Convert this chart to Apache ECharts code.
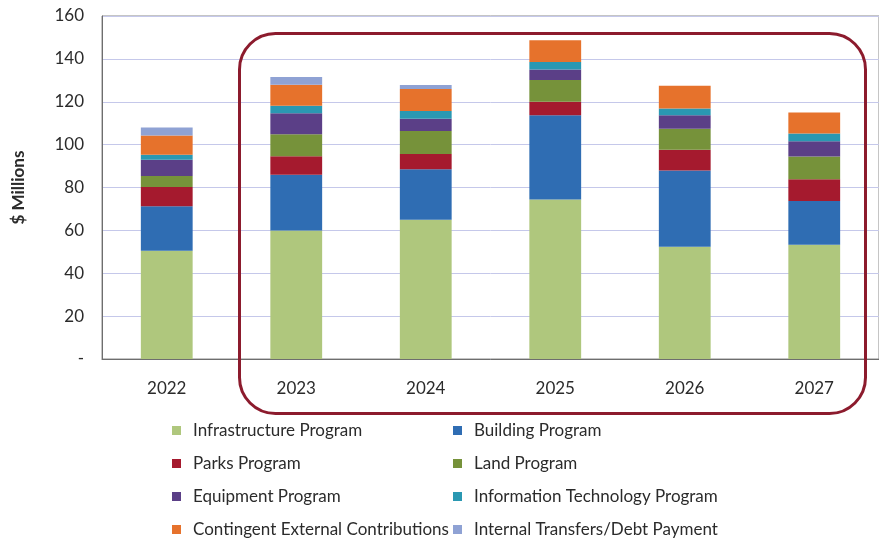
<!DOCTYPE html>
<html>
<head>
<meta charset="utf-8">
<style>
  html, body { margin: 0; padding: 0; background: #fff; }
  #chart { width: 879px; height: 540px; }
</style>
<script src="https://cdn.jsdelivr.net/npm/echarts@6/dist/echarts.min.js"></script>
</head>
<body>
<div id="chart"></div>
<script>
  // fiscal years
  const years = ['2022', '2023', '2024', '2025', '2026', '2027']

  // $ millions
  const infrastructure = [50.5, 60.0, 65.0, 74.4, 52.4, 53.3]
  const building = [20.7, 25.9, 23.5, 39.3, 35.5, 20.4]
  const parks = [9.0, 8.7, 7.1, 6.3, 9.7, 10.1]
  const land = [5.2, 10.2, 10.7, 10.2, 9.8, 10.7]
  const equipment = [7.5, 9.8, 5.8, 4.8, 6.3, 7.1]
  const infoTech = [2.4, 3.5, 3.6, 3.5, 3.1, 3.6]
  const contingent = [8.9, 9.8, 10.3, 10.2, 10.7, 9.8]
  const internalTransfers = [3.8, 3.6, 1.8, 0, 0, 0]

  const yTicks = [0, 20, 40, 60, 80, 100, 120, 140, 160]

  const seriesDefs = [
    { name: 'Infrastructure Program', data: infrastructure, color: '#afc77d' },
    { name: 'Building Program', data: building, color: '#2f6db3' },
    { name: 'Parks Program', data: parks, color: '#a51a2e' },
    { name: 'Land Program', data: land, color: '#76923a' },
    { name: 'Equipment Program', data: equipment, color: '#5b3f87' },
    { name: 'Information Technology Program', data: infoTech, color: '#2a98b2' },
    { name: 'Contingent External Contributions', data: contingent, color: '#e6722c' },
    { name: 'Internal Transfers/Debt Payment', data: internalTransfers, color: '#8fa2d4' }
  ]

  const chart = echarts.init(document.getElementById('chart'))
  const legendText = {
    fontFamily: 'Lato',
    fontSize: 17,
    color: '#2b2b2b',
    padding: [0, 0, 0, 7]
  }
  const legendBase = {
    orient: 'vertical',
    top: 422,
    height: 140,
    padding: 0,
    itemWidth: 9,
    itemHeight: 9,
    itemGap: 16,
    icon: 'rect',
    textStyle: legendText
  }

  chart.setOption({
    backgroundColor: '#fff',
    animation: false,
    grid: {
      left: 102,
      right: -9,
      top: 16,
      bottom: 181,
      show: true,
      borderColor: '#8a8a8a',
      borderWidth: 1
    },
    legend: [
      Object.assign({}, legendBase, {
        left: 172,
        data: [seriesDefs[0].name, seriesDefs[2].name, seriesDefs[4].name, seriesDefs[6].name]
      }),
      Object.assign({}, legendBase, {
        left: 453,
        data: [seriesDefs[1].name, seriesDefs[3].name, seriesDefs[5].name, seriesDefs[7].name]
      })
    ],
    xAxis: {
      type: 'category',
      data: years,
      axisLine: { lineStyle: { color: '#6e6e6e' } },
      axisTick: { show: false },
      axisLabel: {
        margin: 21,
        fontFamily: 'Lato',
        fontSize: 17,
        color: '#2b2b2b'
      }
    },
    yAxis: {
      type: 'value',
      min: yTicks[0],
      max: yTicks[yTicks.length - 1],
      interval: 20,
      name: '$ Millions',
      nameLocation: 'middle',
      nameGap: 75,
      nameTextStyle: {
        fontFamily: 'Lato',
        fontSize: 17,
        fontWeight: 'bold',
        color: '#2b2b2b'
      },
      axisLine: { show: true, lineStyle: { color: '#6e6e6e' } },
      axisTick: { show: false },
      splitLine: { lineStyle: { color: '#c5c8ea', width: 1 } },
      axisLabel: {
        margin: 18,
        fontFamily: 'Lato',
        fontSize: 17,
        color: '#2b2b2b',
        formatter: function (val) {
          return val === 0 ? '-' : val
        }
      }
    },
    series: seriesDefs.map(function (s) {
      return {
        name: s.name,
        type: 'bar',
        stack: 'total',
        barWidth: '40%',
        data: s.data,
        itemStyle: { color: s.color }
      }
    }),
    graphic: [{
      type: 'rect',
      left: 237,
      top: 31,
      shape: { width: 626, height: 380, r: 36 },
      style: { fill: 'none', stroke: '#8c1b2d', lineWidth: 3 },
      z: 100
    }]
  })
</script>
</body>
</html>
